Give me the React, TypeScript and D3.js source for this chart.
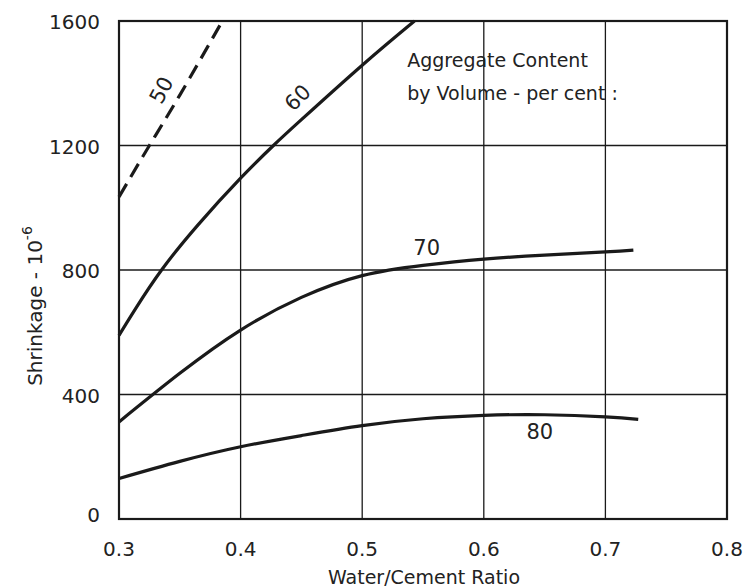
import { useEffect, useRef } from 'react';
import * as d3 from 'd3';

// w/c ratio vs shrinkage (10^-6), one curve per aggregate content (%)
const agg50: [number, number][] = [[0.3, 1035], [0.325, 1200], [0.35, 1362], [0.385, 1600]];
const agg60: [number, number][] = [
  [0.3, 590], [0.313, 672], [0.335, 800], [0.365, 945], [0.4, 1095], [0.427, 1200], [0.45, 1283], [0.5, 1458], [0.543, 1600],
];
const agg70: [number, number][] = [
  [0.3, 312], [0.35, 468], [0.4, 607], [0.45, 712], [0.5, 782], [0.55, 815], [0.6, 835], [0.65, 848], [0.7, 858], [0.723, 864],
];
const agg80: [number, number][] = [
  [0.3, 130], [0.35, 185], [0.4, 232], [0.45, 268], [0.5, 300], [0.55, 322], [0.6, 333], [0.65, 335], [0.7, 328], [0.727, 320],
];

const xTicks = [0.3, 0.4, 0.5, 0.6, 0.7, 0.8];
const yTicks = [0, 400, 800, 1200, 1600];

const FONT = '"DejaVu Sans", sans-serif';
const INK = '#1a1a1a';

export default function App() {
  const svgRef = useRef<SVGSVGElement>(null);

  useEffect(() => {
    if (!svgRef.current) return;
    const svg = d3.select(svgRef.current);
    svg.selectAll('*').remove();

    const margin = { top: 21, right: 22, bottom: 69, left: 119 };
    const width = 749;
    const height = 588;
    const w = width - margin.left - margin.right;
    const h = height - margin.top - margin.bottom;

    const x = d3.scaleLinear().domain([0.3, 0.8]).range([0, w]);
    const y = d3.scaleLinear().domain([0, 1600]).range([h, 0]);

    const g = svg.append('g').attr('transform', `translate(${margin.left},${margin.top})`);

    // grid
    g.selectAll('.vgrid')
      .data(xTicks.slice(1, -1))
      .join('line')
      .attr('x1', (d) => x(d)).attr('x2', (d) => x(d))
      .attr('y1', 0).attr('y2', h)
      .attr('stroke', INK).attr('stroke-width', 1.3);
    g.selectAll('.hgrid')
      .data(yTicks.slice(1, -1))
      .join('line')
      .attr('x1', 0).attr('x2', w)
      .attr('y1', (d) => y(d)).attr('y2', (d) => y(d))
      .attr('stroke', INK).attr('stroke-width', 1.3);

    // frame
    g.append('rect').attr('width', w).attr('height', h)
      .attr('fill', 'none').attr('stroke', INK).attr('stroke-width', 2.2);

    const txt = (sel: d3.Selection<SVGTextElement, any, any, any>, size = 20) =>
      sel.attr('font-family', FONT).attr('font-size', size).attr('fill', '#222');

    // tick labels
    txt(g.selectAll<SVGTextElement, number>('.xl')
      .data(xTicks)
      .join('text')
      .attr('x', (d) => x(d)).attr('y', h + 37)
      .attr('text-anchor', 'middle')
      .text((d) => d.toFixed(1)));
    txt(g.selectAll<SVGTextElement, number>('.yl')
      .data(yTicks)
      .join('text')
      .attr('x', -19).attr('y', (d) => y(d) + (d === 0 ? 3 : 8))
      .attr('text-anchor', 'end')
      .text((d) => String(d)));

    // axis titles
    txt(svg.append('text')
      .attr('x', 424).attr('y', 584)
      .attr('text-anchor', 'middle')
      .text('Water/Cement Ratio'), 19);
    const yt = txt(svg.append('text')
      .attr('transform', 'translate(42,306) rotate(-90)')
      .attr('text-anchor', 'middle'), 20);
    yt.append('tspan').text('Shrinkage - 10');
    yt.append('tspan').attr('dy', -10).attr('font-size', 14).text('-6');

    // curves
    const line = d3.line<[number, number]>()
      .x((d) => x(d[0]))
      .y((d) => y(d[1]))
      .curve(d3.curveNatural);

    const series = [
      { data: agg50, dash: '15,8' },
      { data: agg60, dash: null },
      { data: agg70, dash: null },
      { data: agg80, dash: null },
    ];
    for (const s of series) {
      g.append('path')
        .datum(s.data)
        .attr('d', line)
        .attr('fill', 'none')
        .attr('stroke', INK)
        .attr('stroke-width', 3.2)
        .attr('stroke-dasharray', s.dash);
    }

    // curve labels
    const lbl = (text: string, cx: number, cy: number, rot: number) =>
      txt(g.append('text')
        .attr('transform', `translate(${x(cx)},${y(cy)}) rotate(${rot})`)
        .attr('text-anchor', 'middle').attr('dominant-baseline', 'central')
        .text(text), 21);
    lbl('50', 0.335, 1378, -62);
    lbl('60', 0.447, 1353, -45);
    lbl('70', 0.553, 871, 0);
    lbl('80', 0.646, 280, 0);

    // legend note
    const note = txt(g.append('text'), 19);
    note.append('tspan').attr('x', x(0.537)).attr('y', y(1452)).text('Aggregate Content');
    note.append('tspan').attr('x', x(0.537)).attr('y', y(1346)).text('by Volume - per cent :');
  }, []);

  return (
    <svg
      ref={svgRef}
      width={749}
      height={588}
      style={{ position: 'absolute', left: 0, top: 0, background: '#fff' }}
    />
  );
}
